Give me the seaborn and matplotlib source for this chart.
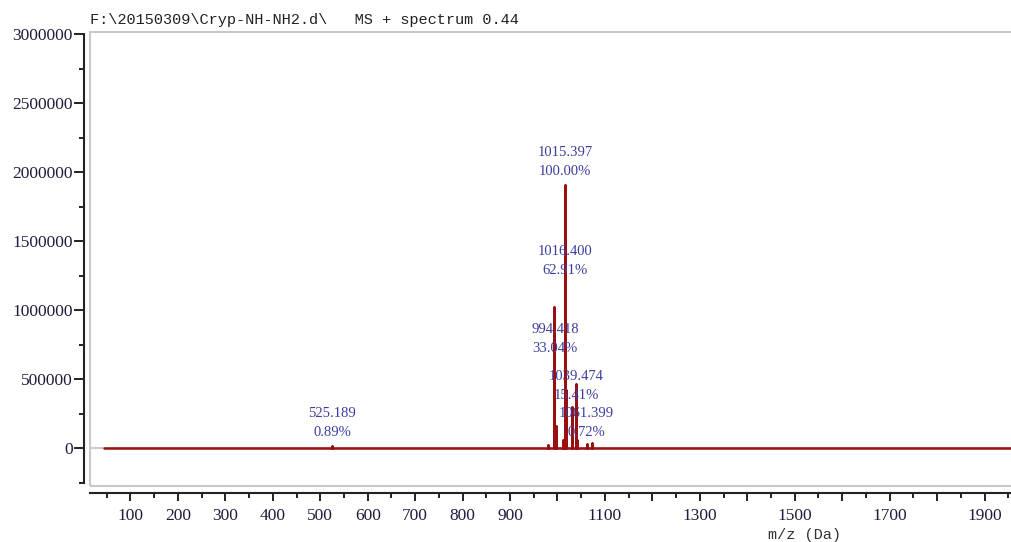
import matplotlib
matplotlib.use("Agg")
import matplotlib.pyplot as plt
import matplotlib.ticker as mticker
from matplotlib.patches import Rectangle
import seaborn as sns
import pandas as pd

# Пики спектра (m/z, интенсивность)
peak_mz = [525.2, 979.0, 992.4, 995.8, 1012.0, 1015.4, 1017.4, 1031.0, 1038.3, 1040.2, 1061.4, 1073.0]
peak_int = [15000, 20000, 1020000, 159000, 60000, 1906000, 420000, 295000, 462000, 58000, 29000, 38000]
baseline_start = 45
baseline_end = 2000

# Подписи пиков
label_mz = [1015.397, 1016.400, 994.418, 1039.474, 1061.399, 525.189]
label_pct = ["100.00%", "62.91%", "33.04%", "15.41%", "0.72%", "0.89%"]
label_y = [2072000, 1355000, 790000, 449000, 181000, 181000]

x_labelled = [100, 200, 300, 400, 500, 600, 700, 800, 900, 1100, 1300, 1500, 1700, 1900]

title = "F:\\20150309\\Cryp-NH-NH2.d\\   MS + spectrum 0.44"

# Путь спектра: базовая линия со "штырьками"
xs, ys = [baseline_start], [0]
for mz, h in sorted(zip(peak_mz, peak_int)):
    xs += [mz, mz, mz]
    ys += [0, h, 0]
xs.append(baseline_end)
ys.append(0)
df = pd.DataFrame({"mz": xs, "intensity": ys})

sns.set_style("ticks")
plt.rcParams["font.family"] = ["Liberation Serif", "DejaVu Serif"]

fig = plt.figure(figsize=(10.11, 5.42), dpi=100)
ax = fig.add_axes([90 / 1011, 56 / 542, 925 / 1011, 454 / 542])

ax.axhline(0, color="#cccccc", lw=1.5, zorder=1)
sns.lineplot(data=df, x="mz", y="intensity", estimator=None, sort=False,
             color="#9a1010", lw=1.8, ax=ax, zorder=3)

for mz, pct, y in zip(label_mz, label_pct, label_y):
    ax.text(mz, y, f"{mz:.3f}\n{pct}", ha="center", va="center",
            fontsize=10.5, color="#3c3ca0", linespacing=1.6, zorder=4)

ax.set_xlim(14.75, 1964.2)
ax.set_ylim(-275362, 3014493)

# Оси
for s in ["top", "right"]:
    ax.spines[s].set_visible(False)
ax.spines["left"].set_position(("outward", 4.3))
ax.spines["bottom"].set_position(("outward", 5))
ax.spines["left"].set_bounds(-250000, 3000000)
for s in ["left", "bottom"]:
    ax.spines[s].set_linewidth(1.5)
    ax.spines[s].set_color("#222222")

ax.add_patch(Rectangle((0, 0), 1, 1, transform=ax.transAxes, fill=False,
                       ec="#c8c8c8", lw=1.5, clip_on=False, zorder=0))

ax.yaxis.set_major_locator(mticker.MultipleLocator(500000))
ax.yaxis.set_minor_locator(mticker.MultipleLocator(250000))
ax.yaxis.set_major_formatter(mticker.FuncFormatter(lambda v, p: f"{int(round(v))}"))
ax.xaxis.set_major_locator(mticker.MultipleLocator(100))
ax.xaxis.set_minor_locator(mticker.MultipleLocator(50))
ax.xaxis.set_major_formatter(mticker.FuncFormatter(
    lambda v, p: f"{int(round(v))}" if int(round(v)) in x_labelled else ""))

ax.tick_params(axis="y", which="major", length=7.2, width=1.4, pad=1, labelsize=12.5,
               colors="#222222", labelcolor="#1e1e3c")
ax.tick_params(axis="y", which="minor", length=3.6, width=1.4, colors="#222222")
ax.tick_params(axis="x", which="major", length=6, width=1.4, pad=5, labelsize=12.5,
               colors="#222222", labelcolor="#1e1e3c")
ax.tick_params(axis="x", which="minor", length=3.6, width=1.4, colors="#222222")
ax.set_xlabel("")
ax.set_ylabel("")

fig.text(90 / 1011, 1 - 20 / 542, title, ha="left", va="center",
         fontsize=11, family=["Liberation Mono", "DejaVu Sans Mono"], color="#222222")
fig.text(804 / 1011, 7 / 542, "m/z (Da)", ha="center", va="center",
         fontsize=11, family=["Liberation Mono", "DejaVu Sans Mono"], color="#333333")

fig.savefig("out.png", dpi=100)
